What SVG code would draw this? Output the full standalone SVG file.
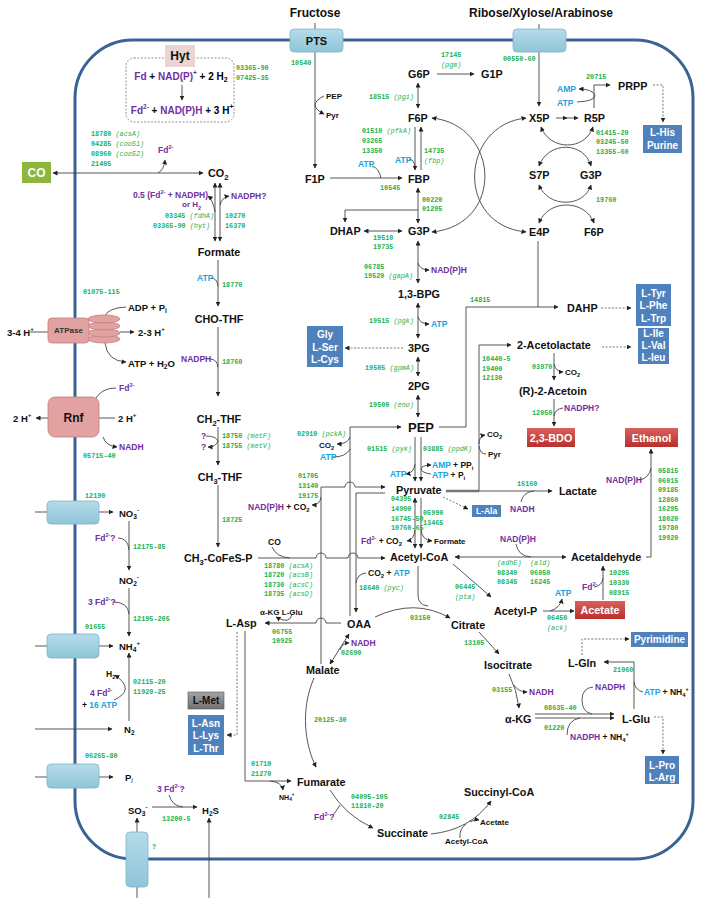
<svg xmlns="http://www.w3.org/2000/svg" width="714" height="898" viewBox="0 0 714 898">
<defs>
<style>
text{font-family:"Liberation Sans",Arial,sans-serif;font-weight:bold;dominant-baseline:central}
.m{font-size:10.8px;fill:#111}
.h{font-size:12px;fill:#111}
.s{font-size:8px;fill:#111}
.t{font-size:9.5px;fill:#111}
.q{font-size:8.5px}
.g{font-family:"Liberation Mono","Courier New",monospace;font-size:6.8px;fill:#1db04e}
.p{fill:#7030a0}
.b{fill:#17a3e0}
.k{fill:#111}
.i{font-style:italic;font-weight:normal}
.sb{baseline-shift:sub;font-size:70%}
.sp{baseline-shift:super;font-size:65%}
.c{fill:none;stroke:#444;stroke-width:0.9}
.ar{marker-end:url(#ah)}
.ab{marker-start:url(#ah);marker-end:url(#ah)}
.d{fill:none;stroke:#666;stroke-width:0.9;stroke-dasharray:2 1.6}
.bx{fill:#4f81bd}
.bt{font-size:10px;fill:#fff;text-anchor:middle}
.tr{fill:url(#gt);stroke:#7fb3c7;stroke-width:0.8}
.pk{fill:#e2a2a2;stroke:#c47c7c;stroke-width:0.8}
.rd{fill:url(#gr)}
.mid{text-anchor:middle}
</style>
<linearGradient id="gt" x1="0" y1="0" x2="0" y2="1"><stop offset="0" stop-color="#b5dce9"/><stop offset="1" stop-color="#8fc5d8"/></linearGradient>
<linearGradient id="gr" x1="0" y1="0" x2="0" y2="1"><stop offset="0" stop-color="#d9605b"/><stop offset="1" stop-color="#b9302d"/></linearGradient>
<linearGradient id="gg" x1="0" y1="0" x2="0" y2="1"><stop offset="0" stop-color="#a5a5a5"/><stop offset="1" stop-color="#707070"/></linearGradient>
<marker id="ah" viewBox="0 0 10 10" refX="9" refY="5" markerWidth="5" markerHeight="5" orient="auto-start-reverse" markerUnits="userSpaceOnUse"><path d="M0,0 L10,5 L0,10 z" fill="#222"/></marker>
</defs>
<rect width="714" height="898" fill="#fff"/>

<!-- cell membrane -->
<rect id="cell" x="75" y="40" width="618" height="819" rx="58" fill="none" stroke="#3a6395" stroke-width="3"/>

<g id="connectors">
<!-- CO / CO2 -->
<path class="c ab" d="M53 173 L203 173"/>
<path class="c ar" d="M158 173 Q164 170 165 160"/>
<path class="c ar" d="M182 85 L182 100"/>
<path class="c ab" d="M215 183 L215 241"/>
<path class="c ab" d="M220 183 L220 241"/>
<path class="c ar" d="M215 212 Q213 200 208 196"/>
<path class="c ar" d="M220 205 Q222 197 229 196"/>
<path class="c ar" d="M218 260 L218 306"/>
<path class="c" d="M211 278 Q217 278 218 286"/>
<path class="c ar" d="M218 327 L218 396"/>
<path class="c" d="M210 359 Q217 359 218 367"/>
<path class="c ar" d="M218 427 L218 465"/>
<path class="c" d="M206 436 Q216 436 218 441"/>
<path class="c ar" d="M218 441 Q216 447 208 447"/>
<path class="c ar" d="M218 485 L218 547"/>
<!-- ATPase / Rnf -->
<path class="c" d="M30 332 L48 332"/>
<path class="c" d="M126 307 Q108 308 105 316"/>
<path class="c ar" d="M105 343 Q107 361 126 362"/>
<path class="c ar" d="M120 332 L134 332"/>
<path class="c ar" d="M48 418 L36 418"/>
<path class="c" d="M99 418 L115 418"/>
<path class="c" d="M96 398 Q102 388 116 388"/>
<path class="c ar" d="M103 437 Q106 446 117 447"/>
<!-- transporters left -->
<path class="c" d="M35 512 L47 512"/><path class="c ar" d="M99 512 L113 512"/>
<path class="c" d="M35 646 L47 646"/><path class="c ar" d="M99 646 L113 646"/>
<path class="c ar" d="M35 729 L112 729"/>
<path class="c" d="M35 777 L47 777"/><path class="c ar" d="M99 777 L113 777"/>
<path class="c ar" d="M137 832 L137 818"/><path class="c" d="M137 887 L137 898"/>
<path class="c ar" d="M209 898 L209 818"/>
<path class="c ar" d="M129 521 L129 570"/>
<path class="c" d="M118 538 Q128 538 129 550"/>
<path class="c ar" d="M129 588 L129 636"/>
<path class="c" d="M113 602 Q128 602 129 614"/>
<path class="c ar" d="M129 721 L129 653"/>
<path class="c ar" d="M114 700 Q136 690 115 675"/>
<path class="c ar" d="M152 807 L197 807"/>
<path class="c" d="M169 795 Q172 806 183 807"/>
<!-- glycolysis -->
<path class="c ar" d="M315 23 L315 168"/>
<path class="c ar" d="M324 96 Q306 105 324 114"/>
<path class="c ar" d="M330 178 L402 178"/>
<path class="c" d="M372 166 Q379 168 381 178"/>
<path class="c ar" d="M437 74 L474 74"/>
<path class="c ab" d="M418 83 L418 108"/>
<path class="c ar" d="M415 127 L415 170"/>
<path class="c ar" d="M421 170 L421 127"/>
<path class="c" d="M409 159 Q414 160 415 166"/>
<path class="c ab" d="M418 188 L418 223"/>
<path class="c ar" d="M418 210 L345 210 L345 222"/>
<path class="c ab" d="M364 231 L402 231"/>
<path class="c ab" d="M418 241 L418 283"/>
<path class="c ar" d="M418 263 Q420 270 429 270"/>
<path class="c ab" d="M418 303 L418 338"/>
<path class="c ar" d="M418 317 Q420 324 429 324"/>
<path class="c ab" d="M418 357 L418 376"/>
<path class="c ab" d="M418 395 L418 417"/>
<path class="d ar" d="M403 348 L345 348"/>
<path class="c ar" d="M415 437 L415 481"/>
<path class="c ar" d="M421 437 L421 481"/>
<path class="c ar" d="M415 464 Q414 473 406 474"/>
<path class="c ar" d="M431 474 Q422 473 421 469 Q422 465 431 465"/>
<path class="c ar" d="M439 427 L466 427 L466 307 L558 307"/>
<path class="c" d="M538 241 L538 307"/>
<!-- PPP -->
<path class="c ar" d="M539 24 L539 106"/>
<path class="c ar" d="M556 118 L567 118"/>
<path class="c ar" d="M566 118 L578 118"/>
<path class="c ar" d="M594 108 L594 85 L610 85"/>
<path class="c ar" d="M577 102 Q596 101 595 95 Q592 89 579 89"/>
<path class="d ar" d="M653 85 L663 85 L663 122"/>
<path class="c ab" d="M541 127 C550 151 585 151 593 127"/>
<path class="c ab" d="M539 166 C548 141 584 141 591 166"/>
<path class="c ab" d="M539 185 C548 208 584 208 591 185"/>
<path class="c ab" d="M539 223 C548 199 585 199 594 223"/>
<path class="c ab" d="M432 118 C500 125 505 225 432 232"/>
<path class="c ab" d="M526 118 C460 125 455 225 526 232"/>
<!-- pyruvate branches -->
<path fill="none" stroke="#777" stroke-width="2.6" d="M446 491 L479 491"/>
<path class="c ar" d="M479 491 L479 345 L511 345"/>
<path class="c ar" d="M479 491 L552 491"/>
<path class="c ar" d="M479 444 Q479 436 485 435"/>
<path class="c" d="M486 454 Q480 454 479 446"/>
<path class="d ar" d="M443 497 L468 509"/>
<path class="c" d="M521 502 Q523 492 534 491"/>
<path class="d ar" d="M602 347 L631 347"/>
<path class="d ar" d="M601 308 L631 308"/>
<path class="c ar" d="M554 353 L554 380"/>
<path class="c ar" d="M554 364 Q556 372 563 372"/>
<path class="c ar" d="M554 399 L554 426"/>
<path class="c" d="M563 408 Q555 409 554 416"/>
<path class="c ab" d="M455 557 L566 557"/>
<path class="c" d="M516 544 Q518 556 531 557"/>
<path class="c ar" d="M646 557 L651 557 L651 449"/>
<path class="c" d="M640 480 Q649 478 651 468"/>
<path class="c ar" d="M453 564 L491 597"/>
<path class="c ar" d="M543 611 L574 611"/>
<path class="c ar" d="M550 611 Q560 608 562 599"/>
<path class="c ar" d="M603 600 L603 566"/>
<path class="c" d="M594 587 Q602 586 603 578"/>
<!-- C1 / acetyl-CoA -->
<path class="c ar" d="M258 558 L316 558 A5 5 0 0 1 326 558 L348 558 A5 5 0 0 1 358 558 L385 558"/>
<path class="c" d="M272 547 Q276 557 290 558"/>
<path class="c ab" d="M415 498 L415 548"/>
<path class="c ar" d="M421 498 L421 548"/>
<path class="c ar" d="M415 530 Q414 540 407 541"/>
<path class="c ar" d="M421 530 Q422 540 432 541"/>
<path class="c ar" d="M321 664 L321 487 L345 487 A5 5 0 0 1 355 487 L385 487"/>
<path class="c ar" d="M321 497 Q320 505 312 505"/>
<path class="c ar" d="M385 493 L356 493 L356 612"/>
<path class="c" d="M366 573 Q357 574 356 583"/>
<path class="c ar" d="M350 616 L350 427 L401 427"/>
<path class="c ar" d="M350 437 Q348 444 337 444"/>
<path class="c" d="M333 457 Q346 457 350 449"/>
<path class="c ar" d="M341 623 L326 623 A5 5 0 0 0 316 623 L265 623"/>
<path class="c ar" d="M292 614 Q290 625 276 617"/>
<path class="c ab" d="M330 664 L349 634"/>
<path class="c ar" d="M340 650 Q342 643 349 643"/>
<path class="c ar" d="M375 617 Q415 598 450 618"/>
<path class="c" d="M418 566 L418 595 Q418 605 428 606"/>
<path class="c ar" d="M479 632 L499 654"/>
<path class="c ar" d="M509 674 Q517 690 519 708"/>
<path class="c ar" d="M514 685 Q518 692 527 692"/>
<path class="c ar" d="M535 714 L614 714"/>
<path class="c ar" d="M535 718 L614 718"/>
<path class="c" d="M567 735 Q567 720 580 718"/>
<path class="c" d="M593 687 Q582 688 582 700 Q582 712 592 714"/>
<path class="c ar" d="M634 709 L634 662 L604 662"/>
<path class="c" d="M643 692 Q635 690 634 682"/>
<path class="d ar" d="M582 655 L582 639 L629 639"/>
<path class="d ar" d="M654 717 L663 717 L663 754"/>
<!-- lower TCA -->
<path class="c ar" d="M314 678 C300 710 305 745 316 767"/>
<path class="c ar" d="M245 631 L245 781 L291 781"/>
<path class="c ar" d="M270 781 Q282 782 283 790"/>
<path class="d ar" d="M237 632 L237 735 L227 735"/>
<path class="c ar" d="M330 790 Q345 815 373 828"/>
<path class="c" d="M333 815 Q337 810 340 805"/>
<path class="c ar" d="M431 834 Q470 830 491 801"/>
<path class="c" d="M460 838 Q459 829 466 824"/>
<path class="c ar" d="M470 822 Q474 819 479 820"/>
</g>

<!-- membrane proteins -->
<g id="PTS"><rect class="tr" x="290" y="29" width="53" height="23" rx="4"/><text class="h mid" x="316.5" y="40.5" style="font-size:11px">PTS</text></g>
<g id="ribose-transporter"><rect class="tr" x="513" y="29" width="53" height="23" rx="4"/></g>
<g id="NO3-transporter"><rect class="tr" x="47" y="501" width="52" height="23" rx="4"/></g>
<g id="NH4-transporter"><rect class="tr" x="47" y="634" width="52" height="24" rx="4"/></g>
<g id="Pi-transporter"><rect class="tr" x="47" y="764" width="52" height="24" rx="4"/></g>
<g id="SO3-transporter"><rect class="tr" x="126" y="832" width="22" height="55" rx="4"/></g>
<g id="ATPase">
<ellipse class="pk" cx="104" cy="339" rx="16" ry="4"/>
<ellipse class="pk" cx="104" cy="333" rx="16" ry="4"/>
<ellipse class="pk" cx="104" cy="326" rx="16" ry="4"/>
<ellipse class="pk" cx="104" cy="319" rx="16" ry="4"/>
<rect class="pk" x="48" y="318" width="41" height="25" rx="4"/>
<text class="mid" x="68.5" y="330.5" style="font-size:8px;fill:#333">ATPase</text>
</g>
<g id="Rnf"><rect class="pk" x="48" y="397" width="51" height="40" rx="7"/><text class="h mid" x="73.5" y="417.5">Rnf</text></g>

<!-- Hyt -->
<g id="Hyt">
<rect x="126" y="58" width="108" height="64" rx="8" fill="none" stroke="#777" stroke-width="0.8" stroke-dasharray="2 1.5"/>
<rect x="165" y="45" width="30" height="22" fill="#ead5d1"/>
<text class="h mid" x="180" y="56">Hyt</text>
<text class="mid" x="181" y="76" style="font-size:10px"><tspan class="p">Fd</tspan> + <tspan class="p">NAD(P)<tspan class="sp">+</tspan></tspan> + 2 H<tspan class="sb">2</tspan></text>
<text class="mid" x="182" y="110" style="font-size:10px"><tspan class="p">Fd<tspan class="sp">2-</tspan></tspan> + <tspan class="p">NAD(P)H</tspan> + 3 H<tspan class="sp">+</tspan></text>
</g>

<!-- outside/boxes -->
<g id="CO"><rect x="22" y="162" width="29" height="21" fill="#8cb63c"/><text class="mid" x="36.5" y="172.5" style="font-size:12px;fill:#fff">CO</text></g>
<g id="Fructose"><text class="h mid" x="315" y="13">Fructose</text></g>
<g id="Ribose"><text class="h mid" x="541" y="13">Ribose/Xylose/Arabinose</text></g>

<g id="LHis"><rect class="bx" x="643" y="125" width="39" height="28"/><text class="bt" x="662.5" y="132.5">L-His</text><text class="bt" x="662.5" y="145.5">Purine</text></g>
<g id="LTyr"><rect class="bx" x="636" y="284" width="35" height="42"/><text class="bt" x="653.5" y="293">L-Tyr</text><text class="bt" x="653.5" y="305.5">L-Phe</text><text class="bt" x="653.5" y="318">L-Trp</text></g>
<g id="LIle"><rect class="bx" x="638" y="328" width="31" height="36"/><text class="bt" x="653.5" y="333">L-Ile</text><text class="bt" x="653.5" y="345">L-Val</text><text class="bt" x="653.5" y="357">L-leu</text></g>
<g id="Gly"><rect class="bx" x="307" y="326" width="36" height="41"/><text class="bt" x="325" y="334.5">Gly</text><text class="bt" x="325" y="347">L-Ser</text><text class="bt" x="325" y="359.5">L-Cys</text></g>
<g id="LAla"><rect class="bx" x="472" y="505" width="29" height="12"/><text class="bt" x="486.5" y="511" style="font-size:8.5px">L-Ala</text></g>
<g id="Pyrimidine"><rect class="bx" x="631" y="632" width="57" height="15"/><text class="bt" x="659.5" y="639.5">Pyrimidine</text></g>
<g id="LPro"><rect class="bx" x="645" y="756" width="34" height="28"/><text class="bt" x="662" y="765">L-Pro</text><text class="bt" x="662" y="777.5">L-Arg</text></g>
<g id="LAsn"><rect class="bx" x="188" y="715" width="36" height="40"/><text class="bt" x="206" y="723">L-Asn</text><text class="bt" x="206" y="735.5">L-Lys</text><text class="bt" x="206" y="748">L-Thr</text></g>
<g id="LMet"><rect x="188" y="692" width="36" height="17" fill="url(#gg)" stroke="#555" stroke-width="0.6"/><text class="mid" x="206" y="700.5" style="font-size:10px;fill:#111">L-Met</text></g>
<g id="BDO"><rect class="rd" x="527" y="428" width="48" height="19"/><text class="mid" x="551" y="437.5" style="font-size:10.8px;fill:#fff">2,3-BDO</text></g>
<g id="Ethanol"><rect class="rd" x="625" y="428" width="53" height="19"/><text class="mid" x="651.5" y="437.5" style="font-size:10.8px;fill:#fff">Ethanol</text></g>
<g id="Acetate"><rect class="rd" x="575" y="601" width="50" height="18"/><text class="mid" x="600" y="610" style="font-size:10.8px;fill:#fff">Acetate</text></g>

<!-- metabolites -->
<g id="CO2"><text class="m" x="208" y="173">CO<tspan class="sb">2</tspan></text></g>
<g id="Formate"><text class="m mid" x="219" y="252">Formate</text></g>
<g id="CHO-THF"><text class="m mid" x="219" y="319">CHO-THF</text></g>
<g id="CH2-THF"><text class="m mid" x="219" y="419">CH<tspan class="sb">2</tspan>-THF</text></g>
<g id="CH3-THF"><text class="m mid" x="220" y="477">CH<tspan class="sb">3</tspan>-THF</text></g>
<g id="CH3-CoFeS-P"><text class="m" x="184" y="558">CH<tspan class="sb">3</tspan>-CoFeS-P</text></g>
<g id="G6P"><text class="m" x="408" y="74">G6P</text></g>
<g id="G1P"><text class="m" x="481" y="74">G1P</text></g>
<g id="F6P"><text class="m" x="408" y="118">F6P</text></g>
<g id="F1P"><text class="m" x="305" y="179">F1P</text></g>
<g id="FBP"><text class="m" x="408" y="179">FBP</text></g>
<g id="DHAP"><text class="m" x="330" y="231">DHAP</text></g>
<g id="G3P"><text class="m" x="408" y="231">G3P</text></g>
<g id="BPG"><text class="m" x="398" y="294">1,3-BPG</text></g>
<g id="3PG"><text class="m" x="408" y="348">3PG</text></g>
<g id="2PG"><text class="m" x="408" y="386">2PG</text></g>
<g id="PEP"><text class="m" x="408" y="427" style="font-size:13px">PEP</text></g>
<g id="Pyruvate"><text class="m" x="396" y="490">Pyruvate</text></g>
<g id="Acetyl-CoA"><text class="m" x="390" y="557">Acetyl-CoA</text></g>
<g id="OAA"><text class="m" x="347" y="624">OAA</text></g>
<g id="Citrate"><text class="m" x="451" y="625">Citrate</text></g>
<g id="Malate"><text class="m" x="306" y="670">Malate</text></g>
<g id="L-Asp"><text class="m" x="226" y="623">L-Asp</text></g>
<g id="Fumarate"><text class="m" x="297" y="782">Fumarate</text></g>
<g id="Succinate"><text class="m" x="377" y="833">Succinate</text></g>
<g id="Succinyl-CoA"><text class="m" x="464" y="792">Succinyl-CoA</text></g>
<g id="Isocitrate"><text class="m" x="484" y="665">Isocitrate</text></g>
<g id="aKG"><text class="m" x="505" y="719">α-KG</text></g>
<g id="L-Glu"><text class="m" x="622" y="719">L-Glu</text></g>
<g id="L-Gln"><text class="m" x="568" y="663">L-Gln</text></g>
<g id="Acetyl-P"><text class="m" x="494" y="611">Acetyl-P</text></g>
<g id="Acetaldehyde"><text class="m" x="571" y="557">Acetaldehyde</text></g>
<g id="Lactate"><text class="m" x="559" y="491">Lactate</text></g>
<g id="Acetolactate"><text class="m" x="517" y="345">2-Acetolactate</text></g>
<g id="Acetoin"><text class="m" x="519" y="391">(R)-2-Acetoin</text></g>
<g id="DAHP"><text class="m" x="567" y="308">DAHP</text></g>
<g id="X5P"><text class="m" x="529" y="118">X5P</text></g>
<g id="R5P"><text class="m" x="584" y="118">R5P</text></g>
<g id="PRPP"><text class="m" x="618" y="86">PRPP</text></g>
<g id="S7P"><text class="m" x="529" y="175">S7P</text></g>
<g id="G3P-ppp"><text class="m" x="580" y="175">G3P</text></g>
<g id="E4P"><text class="m" x="529" y="232">E4P</text></g>
<g id="F6P-ppp"><text class="m" x="584" y="232">F6P</text></g>
<g id="NO3"><text class="t" x="119" y="513">NO<tspan class="sb">3</tspan><tspan class="sp">-</tspan></text></g>
<g id="NO2"><text class="t" x="119" y="580">NO<tspan class="sb">2</tspan><tspan class="sp">-</tspan></text></g>
<g id="NH4"><text class="t" x="119" y="646">NH<tspan class="sb">4</tspan><tspan class="sp">+</tspan></text></g>
<g id="N2"><text class="t" x="124" y="729">N<tspan class="sb">2</tspan></text></g>
<g id="Pi"><text class="t" x="125" y="777">P<tspan class="sb i">i</tspan></text></g>
<g id="SO3"><text class="t" x="128" y="810">SO<tspan class="sb">3</tspan><tspan class="sp">-</tspan></text></g>
<g id="H2S"><text class="t" x="202" y="810">H<tspan class="sb">2</tspan>S</text></g>

<!-- side species / cofactors -->
<g id="labels">
<text class="t" x="7" y="332">3-4 H<tspan class="sp">+</tspan></text>
<text class="t" x="128" y="307">ADP + P<tspan class="sb">i</tspan></text>
<text class="t" x="138" y="332">2-3 H<tspan class="sp">+</tspan></text>
<text class="t" x="128" y="363">ATP + H<tspan class="sb">2</tspan>O</text>
<text class="t" x="13" y="418">2 H<tspan class="sp">+</tspan></text>
<text class="t" x="118" y="418">2 H<tspan class="sp">+</tspan></text>
<text class="q p" x="119" y="388">Fd<tspan class="sp">2-</tspan></text>
<text class="q p" x="119" y="447">NADH</text>
<text class="q p" x="95" y="538">Fd<tspan class="sp">2-</tspan>?</text>
<text class="q p" x="88" y="602">3 Fd<tspan class="sp">2-</tspan>?</text>
<text class="q k" x="106" y="674">H<tspan class="sb">2</tspan></text>
<text class="q p" x="90" y="693">4 Fd<tspan class="sp">2-</tspan></text>
<text class="q" x="82" y="705"><tspan class="k">+ </tspan><tspan class="b">16 ATP</tspan></text>
<text class="q p" x="157" y="789">3 Fd<tspan class="sp">2-</tspan>?</text>
<text class="q p" x="158" y="150">Fd<tspan class="sp">2-</tspan></text>
<text class="q p" x="133" y="194.5">0.5 (Fd<tspan class="sp">2-</tspan> + NADPH)</text>
<text class="q p" x="182" y="204.5" style="font-size:8px">or H<tspan class="sb">2</tspan></text>
<text class="q p" x="231" y="196">NADPH?</text>
<text class="q b" x="197" y="278">ATP</text>
<text class="q p" x="181" y="359">NADPH</text>
<text class="q p" x="201" y="436">?</text>
<text class="q p" x="201" y="447">?</text>
<text class="s" x="326" y="96">PEP</text>
<text class="s" x="326" y="115">Pyr</text>
<text class="q b" x="358" y="164">ATP</text>
<text class="q b" x="395" y="160">ATP</text>
<text class="q p" x="431" y="270">NAD(P)H</text>
<text class="q b" x="431" y="324">ATP</text>
<text class="q b" x="557" y="89">AMP</text>
<text class="q b" x="557" y="103">ATP</text>
<text class="s" x="565" y="372">CO<tspan class="sb">2</tspan></text>
<text class="q p" x="564" y="408">NADPH?</text>
<text class="s" x="487" y="434">CO<tspan class="sb">2</tspan></text>
<text class="s" x="488" y="454">Pyr</text>
<text class="s" x="319" y="445">CO<tspan class="sb">2</tspan></text>
<text class="q b" x="320" y="457">ATP</text>
<text class="q b" x="390" y="474">ATP</text>
<text class="q" x="432" y="465"><tspan class="b">AMP</tspan><tspan class="k"> + PP<tspan class="sb">i</tspan></tspan></text>
<text class="q" x="432" y="475"><tspan class="b">ATP</tspan><tspan class="k"> + P<tspan class="sb">i</tspan></tspan></text>
<text class="q" x="248" y="507"><tspan class="p">NAD(P)H</tspan><tspan class="k"> + CO<tspan class="sb">2</tspan></tspan></text>
<text class="q p" x="510" y="509">NADH</text>
<text class="q p" x="606" y="480">NAD(P)H</text>
<text class="q p" x="500" y="539">NAD(P)H</text>
<text class="q" x="361" y="541"><tspan class="p">Fd<tspan class="sp">2-</tspan></tspan><tspan class="k"> + CO<tspan class="sb">2</tspan></tspan></text>
<text class="s" x="434" y="541">Formate</text>
<text class="t" x="268" y="542" style="font-size:8.5px">CO</text>
<text class="q" x="368" y="573"><tspan class="k">CO<tspan class="sb">2</tspan> + </tspan><tspan class="b">ATP</tspan></text>
<text class="s" x="260" y="612">α-KG L-Glu</text>
<text class="q p" x="351" y="643">NADH</text>
<text class="q b" x="555" y="593">ATP</text>
<text class="q p" x="582" y="587">Fd<tspan class="sp">2-</tspan></text>
<text class="q p" x="529" y="692">NADH</text>
<text class="q p" x="595" y="687">NADPH</text>
<text class="q" x="644" y="692"><tspan class="b">ATP</tspan><tspan class="k"> + NH<tspan class="sb">4</tspan><tspan class="sp">+</tspan></tspan></text>
<text class="q" x="570" y="737"><tspan class="p">NADPH</tspan><tspan class="k"> + NH<tspan class="sb">4</tspan><tspan class="sp">+</tspan></tspan></text>
<text class="s" x="279" y="797" style="font-size:7px">NH<tspan class="sb">4</tspan><tspan class="sp">+</tspan></text>
<text class="q p" x="314" y="817">Fd<tspan class="sp">2-</tspan>?</text>
<text class="s" x="480" y="822">Acetate</text>
<text class="s" x="445" y="841">Acetyl-CoA</text>

<!-- gene codes -->
<text class="g" x="236" y="68">03365-90</text>
<text class="g" x="236" y="78">07425-35</text>
<text class="g" x="91" y="134">18780 <tspan class="i">(acsA)</tspan></text>
<text class="g" x="91" y="144">04285 <tspan class="i">(cooS1)</tspan></text>
<text class="g" x="91" y="154">08960 <tspan class="i">(cooS2)</tspan></text>
<text class="g" x="91" y="164">21405</text>
<text class="g" x="165" y="216">03345 <tspan class="i">(fdhA)</tspan></text>
<text class="g" x="153" y="225.5">03365-90 <tspan class="i">(hyt)</tspan></text>
<text class="g" x="225" y="216">10270</text>
<text class="g" x="225" y="225.5">16370</text>
<text class="g" x="222" y="285">18770</text>
<text class="g" x="222" y="362">18760</text>
<text class="g" x="222" y="436">18750 <tspan class="i">(metF)</tspan></text>
<text class="g" x="222" y="446">18755 <tspan class="i">(metV)</tspan></text>
<text class="g" x="222" y="520">18725</text>
<text class="g" x="83" y="292">01075-115</text>
<text class="g" x="83" y="456">05715-40</text>
<text class="g" x="85" y="496">12190</text>
<text class="g" x="133" y="547">12175-85</text>
<text class="g" x="133" y="619">12195-205</text>
<text class="g" x="85" y="627">01655</text>
<text class="g" x="133" y="682">02115-20</text>
<text class="g" x="133" y="692">11920-25</text>
<text class="g" x="85" y="756">06265-80</text>
<text class="g" x="162" y="819">13200-5</text>
<text class="g" x="152" y="847">?</text>
<text class="g" x="291" y="63">10540</text>
<text class="g" x="441" y="55">17145</text>
<text class="g" x="441" y="65"><tspan class="i">(pgm)</tspan></text>
<text class="g" x="369" y="97">18515 <tspan class="i">(pgi)</tspan></text>
<text class="g" x="362" y="131">01510 <tspan class="i">(pfkA)</tspan></text>
<text class="g" x="362" y="141">03265</text>
<text class="g" x="362" y="151">13350</text>
<text class="g" x="424" y="151">14735</text>
<text class="g" x="424" y="161"><tspan class="i">(fbp)</tspan></text>
<text class="g" x="380" y="188">10545</text>
<text class="g" x="422" y="200">00220</text>
<text class="g" x="422" y="209">01295</text>
<text class="g" x="373" y="238">19510</text>
<text class="g" x="373" y="247">19735</text>
<text class="g" x="364" y="267">06785</text>
<text class="g" x="364" y="276">19520 <tspan class="i">(gapA)</tspan></text>
<text class="g" x="369" y="321">19515 <tspan class="i">(pgk)</tspan></text>
<text class="g" x="365" y="368">19505 <tspan class="i">(gpmA)</tspan></text>
<text class="g" x="369" y="405">19500 <tspan class="i">(eno)</tspan></text>
<text class="g" x="297" y="434">02910 <tspan class="i">(pckA)</tspan></text>
<text class="g" x="367" y="449">01515 <tspan class="i">(pyk)</tspan></text>
<text class="g" x="423" y="449">03885 <tspan class="i">(ppdK)</tspan></text>
<text class="g" x="298" y="476">01705</text>
<text class="g" x="298" y="486">13140</text>
<text class="g" x="298" y="496">19175</text>
<text class="g" x="391" y="499">04395</text>
<text class="g" x="391" y="509">14900</text>
<text class="g" x="391" y="519">16745-50</text>
<text class="g" x="391" y="528">10760-65</text>
<text class="g" x="423" y="513">05990</text>
<text class="g" x="423" y="523">13465</text>
<text class="g" x="264" y="566">18780 <tspan class="i">(acsA)</tspan></text>
<text class="g" x="264" y="575">18720 <tspan class="i">(acsB)</tspan></text>
<text class="g" x="264" y="585">18730 <tspan class="i">(acsC)</tspan></text>
<text class="g" x="264" y="594">18735 <tspan class="i">(acsD)</tspan></text>
<text class="g" x="359" y="588">18640 <tspan class="i">(pyc)</tspan></text>
<text class="g" x="272" y="632">06755</text>
<text class="g" x="272" y="641">10925</text>
<text class="g" x="341" y="653">02690</text>
<text class="g" x="410" y="618">03150</text>
<text class="g" x="455" y="587">06445</text>
<text class="g" x="455" y="597"><tspan class="i">(pta)</tspan></text>
<text class="g" x="464" y="643">13105</text>
<text class="g" x="314" y="720">20125-30</text>
<text class="g" x="251" y="764">01710</text>
<text class="g" x="251" y="774">21270</text>
<text class="g" x="351" y="797">04095-105</text>
<text class="g" x="351" y="806">11810-20</text>
<text class="g" x="439" y="817">02845</text>
<text class="g" x="503" y="59">00550-60</text>
<text class="g" x="586" y="77">20715</text>
<text class="g" x="596" y="133">01415-20</text>
<text class="g" x="596" y="142">03245-50</text>
<text class="g" x="596" y="152">13355-60</text>
<text class="g" x="596" y="200">19760</text>
<text class="g" x="470" y="300">14815</text>
<text class="g" x="482" y="359">10440-5</text>
<text class="g" x="482" y="369">19400</text>
<text class="g" x="482" y="378">12130</text>
<text class="g" x="532" y="367">03970</text>
<text class="g" x="532" y="413">12050</text>
<text class="g" x="517" y="484">16160</text>
<text class="g" x="497" y="563"><tspan class="i">(adhE)</tspan></text>
<text class="g" x="497" y="573">08340</text>
<text class="g" x="497" y="582">08345</text>
<text class="g" x="530" y="563"><tspan class="i">(ald)</tspan></text>
<text class="g" x="530" y="573">06050</text>
<text class="g" x="530" y="582">16245</text>
<text class="g" x="658" y="471">05815</text>
<text class="g" x="658" y="480.5">06015</text>
<text class="g" x="658" y="490">09185</text>
<text class="g" x="658" y="499.5">12860</text>
<text class="g" x="658" y="509">16295</text>
<text class="g" x="658" y="518.5">18020</text>
<text class="g" x="658" y="528">19780</text>
<text class="g" x="658" y="537.5">19920</text>
<text class="g" x="609" y="573">10295</text>
<text class="g" x="609" y="583">10330</text>
<text class="g" x="609" y="593">08915</text>
<text class="g" x="547" y="618">06450</text>
<text class="g" x="547" y="628"><tspan class="i">(ack)</tspan></text>
<text class="g" x="613" y="670">21060</text>
<text class="g" x="492" y="690">03155</text>
<text class="g" x="544" y="708">08635-40</text>
<text class="g" x="544" y="728">01220</text>
</g>
</svg>
